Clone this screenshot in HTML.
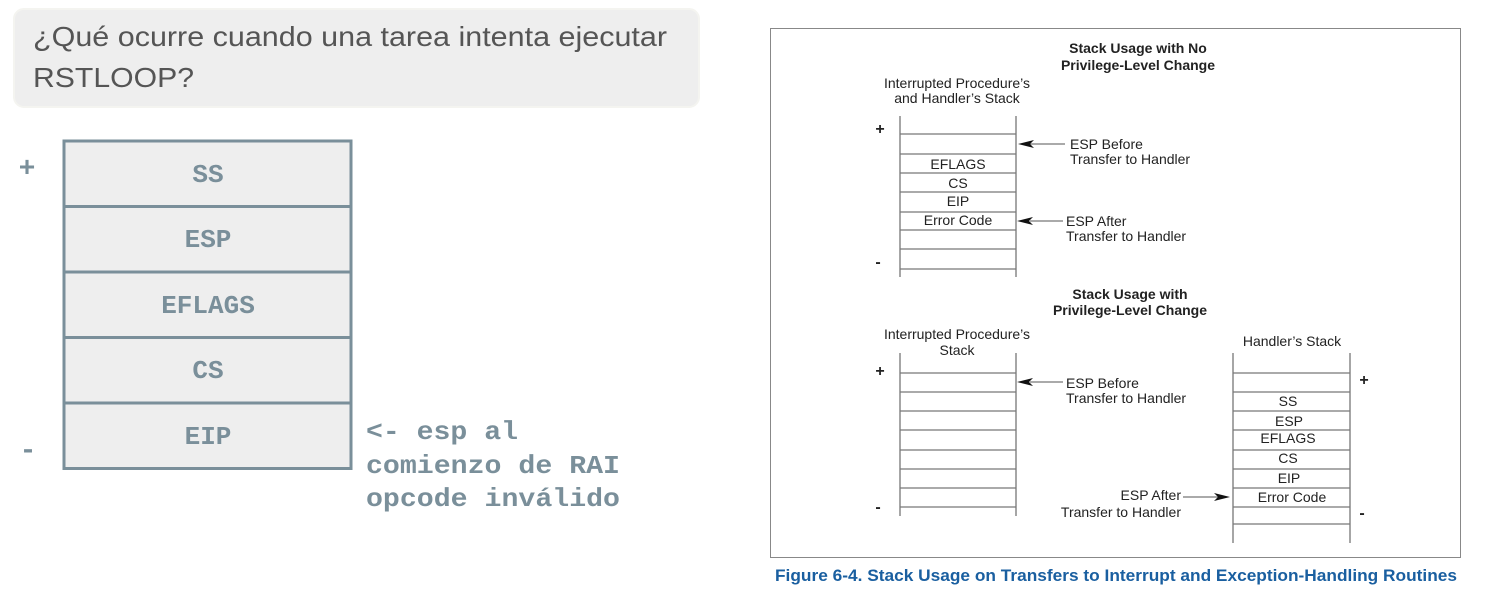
<!DOCTYPE html>
<html><head><meta charset="utf-8"><style>
html,body{margin:0;padding:0;background:#fff;width:1493px;height:595px;overflow:hidden}
</style></head><body>
<svg width="1493" height="595" xmlns="http://www.w3.org/2000/svg">
<rect x="14" y="9" width="685" height="98" rx="10" fill="#eeeeee" stroke="#f4f4f0" stroke-width="2"/>
<g font-family="Liberation Sans, sans-serif" font-size="28" fill="#555">
<text x="33" y="46" textLength="634" lengthAdjust="spacingAndGlyphs">¿Qué ocurre cuando una tarea intenta ejecutar</text>
<text x="33" y="87" textLength="161" lengthAdjust="spacingAndGlyphs">RSTLOOP?</text>
</g>
<g fill="#eeeeee" stroke="#7a8f9a" stroke-width="3">
<rect x="64" y="141" width="287" height="65.5"/>
<rect x="64" y="206.5" width="287" height="65.5"/>
<rect x="64" y="272" width="287" height="65.5"/>
<rect x="64" y="337.5" width="287" height="65.5"/>
<rect x="64" y="403" width="287" height="65.5"/>
</g>
<g font-family="Liberation Mono, monospace" font-weight="bold" font-size="26" fill="#7a8f9a" text-anchor="middle">
<text x="208" y="182">SS</text>
<text x="208" y="247">ESP</text>
<text x="208" y="313">EFLAGS</text>
<text x="208" y="378">CS</text>
<text x="208" y="444">EIP</text>
<text x="27" y="176" font-size="28">+</text>
<text x="28" y="458" font-size="28">-</text>
</g>
<g font-family="Liberation Mono, monospace" font-weight="bold" font-size="26" fill="#7a8f9a">
<text x="366" y="439" textLength="152" lengthAdjust="spacingAndGlyphs">&lt;- esp al</text>
<text x="366" y="473" textLength="254" lengthAdjust="spacingAndGlyphs">comienzo de RAI</text>
<text x="366" y="506" textLength="254" lengthAdjust="spacingAndGlyphs">opcode inválido</text>
</g>
<rect x="770.5" y="28.5" width="690" height="529" fill="none" stroke="#888" stroke-width="1"/>
<text x="775" y="581" font-family="Liberation Sans, sans-serif" font-weight="bold" font-size="16.5" fill="#1a5fa0" textLength="682" lengthAdjust="spacingAndGlyphs">Figure 6-4.  Stack Usage on Transfers to Interrupt and Exception-Handling Routines</text>
<g stroke="#777" stroke-width="1.3" fill="none">
<path d="M900 116V277M1016 116V277"/>
<path d="M900 134H1016M900 154H1016M900 173H1016M900 192H1016M900 212H1016M900 230H1016M900 249H1016M900 269H1016"/>
<path d="M900 353V516M1016 353V516"/>
<path d="M900 373H1016M900 392H1016M900 411H1016M900 430H1016M900 450H1016M900 469H1016M900 488H1016M900 507H1016"/>
<path d="M1233 353V543M1350 353V543"/>
<path d="M1233 373H1350M1233 392H1350M1233 411H1350M1233 430H1350M1233 450H1350M1233 469H1350M1233 488H1350M1233 507H1350M1233 524H1350"/>
<path d="M1030 144H1065M1030 221H1063M1030 382H1063M1183 497H1218"/>
</g>
<g fill="#111">
<path d="M1018 144L1034 140L1030 144L1034 148Z"/>
<path d="M1017 221L1033 217L1029 221L1033 225Z"/>
<path d="M1017 382L1033 378L1029 382L1033 386Z"/>
<path d="M1230 497L1214 493L1218 497L1214 501Z"/>
</g>
<g font-family="Liberation Sans, sans-serif" font-size="14" fill="#222">
<g font-weight="bold" text-anchor="middle">
<text x="1138" y="53">Stack Usage with No</text>
<text x="1138" y="70">Privilege-Level Change</text>
<text x="1130" y="299">Stack Usage with</text>
<text x="1130" y="315">Privilege-Level Change</text>
<text x="880" y="134" font-size="16">+</text>
<text x="878" y="267" font-size="16">-</text>
<text x="880" y="376" font-size="16">+</text>
<text x="878" y="512" font-size="16">-</text>
<text x="1364" y="385" font-size="16">+</text>
<text x="1362" y="518" font-size="16">-</text>
</g>
<g text-anchor="middle">
<text x="957" y="88">Interrupted Procedure’s</text>
<text x="957" y="103">and Handler’s Stack</text>
<text x="958" y="169">EFLAGS</text>
<text x="958" y="188">CS</text>
<text x="958" y="206">EIP</text>
<text x="958" y="225">Error Code</text>
<text x="957" y="339">Interrupted Procedure’s</text>
<text x="957" y="355">Stack</text>
<text x="1292" y="346">Handler’s Stack</text>
<text x="1288" y="406">SS</text>
<text x="1289" y="426">ESP</text>
<text x="1288" y="443">EFLAGS</text>
<text x="1288" y="463">CS</text>
<text x="1289" y="483">EIP</text>
<text x="1292" y="502">Error Code</text>
</g>
<text x="1070" y="149">ESP Before</text>
<text x="1070" y="164">Transfer to Handler</text>
<text x="1066" y="226">ESP After</text>
<text x="1066" y="241">Transfer to Handler</text>
<text x="1066" y="388">ESP Before</text>
<text x="1066" y="403">Transfer to Handler</text>
<g text-anchor="end">
<text x="1181" y="500">ESP After</text>
<text x="1181" y="517">Transfer to Handler</text>
</g>
</g>
</svg>
</body></html>
